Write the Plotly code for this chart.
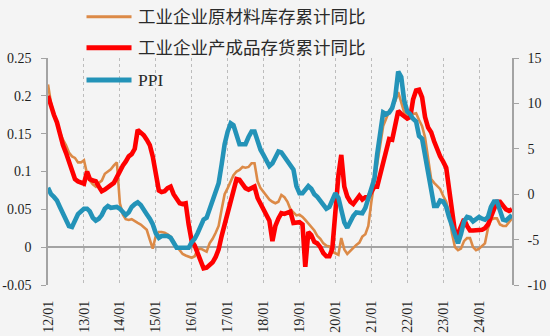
import pandas as pd
import plotly.graph_objects as go

# Monthly observations, Jan 2012 - Dec 2024 (one row per year)
raw_materials = [  # 工业企业原材料库存累计同比 (left axis)
    0.215, 0.190, 0.175, 0.165, 0.152, 0.142, 0.135, 0.125, 0.120, 0.118, 0.112, 0.112,
    0.115, 0.097, 0.088, 0.083, 0.080, 0.085, 0.088, 0.097, 0.100, 0.103, 0.108, 0.112,
    0.058, 0.043, 0.037, 0.036, 0.037, 0.034, 0.032, 0.030, 0.027, 0.023, 0.010, -0.002,
    0.015, 0.020, 0.020, 0.019, 0.017, 0.014, 0.008, 0.000, -0.004, -0.009, -0.011, -0.013,
    -0.014, -0.012, -0.003, -0.002, -0.004, -0.006, 0.005, 0.011, 0.019, 0.028, 0.050, 0.070,
    0.078, 0.086, 0.095, 0.100, 0.102, 0.106, 0.105, 0.106, 0.111, 0.111, 0.087, 0.078,
    0.073, 0.069, 0.063, 0.060, 0.058, 0.060, 0.069, 0.066, 0.060, 0.050, 0.046, 0.042,
    0.043, 0.040, 0.036, 0.031, 0.027, 0.022, 0.015, 0.011, 0.005, 0.002, 0.001, -0.006,
    -0.008, -0.010, 0.012, -0.003, -0.009, -0.005, 0.000, 0.003, 0.006, 0.014, 0.017, 0.028,
    0.060, 0.090, 0.110, 0.135, 0.160, 0.170, 0.180, 0.186, 0.193, 0.205, 0.190, 0.178,
    0.175, 0.175, 0.176, 0.177, 0.168, 0.160, 0.145, 0.120, 0.090, 0.085, 0.081, 0.077,
    0.068, 0.060, 0.045, 0.018, 0.000, -0.004, -0.002, 0.008, 0.012, 0.012, 0.000, -0.004,
    -0.002, 0.002, 0.005, 0.025, 0.036, 0.038, 0.038, 0.030, 0.028, 0.028, 0.033, 0.038,
]

finished_goods = [  # 工业企业产成品存货累计同比 (left axis)
    0.200, 0.185, 0.175, 0.165, 0.148, 0.135, 0.125, 0.113, 0.097, 0.090, 0.087, 0.085,
    0.084, 0.100, 0.090, 0.088, 0.087, 0.080, 0.074, 0.076, 0.080, 0.082, 0.085, 0.093,
    0.100, 0.108, 0.113, 0.120, 0.123, 0.130, 0.155, 0.152, 0.148, 0.142, 0.135, 0.120,
    0.100, 0.075, 0.073, 0.074, 0.078, 0.080, 0.070, 0.064, 0.058, 0.057, 0.058, 0.030,
    0.008, 0.002, -0.008, -0.018, -0.028, -0.027, -0.024, -0.020, -0.013, -0.003, 0.015, 0.030,
    0.042, 0.058, 0.075, 0.090, 0.089, 0.082, 0.078, 0.076, 0.078, 0.080, 0.065, 0.057,
    0.048, 0.040, 0.035, 0.008, 0.028, 0.038, 0.045, 0.044, 0.046, 0.047, 0.032, 0.033,
    0.033, 0.030, -0.026, 0.020, 0.016, 0.007, 0.005, 0.000, -0.008, -0.012, -0.012, -0.002,
    0.050, 0.095, 0.122, 0.080, 0.067, 0.060, 0.057, 0.064, 0.068, 0.063, 0.066, 0.066,
    0.072, 0.080, 0.080, 0.095, 0.110, 0.130, 0.143, 0.142, 0.162, 0.180, 0.176, 0.172,
    0.170, 0.172, 0.195, 0.207, 0.208, 0.198, 0.172, 0.158, 0.152, 0.140, 0.128, 0.120,
    0.113, 0.105, 0.078, 0.045, 0.020, 0.018, 0.028, 0.037, 0.028, 0.022, 0.022, 0.022,
    0.022, 0.023, 0.025, 0.030, 0.040, 0.052, 0.060, 0.060, 0.055, 0.050, 0.048, 0.050,
]

ppi = [  # PPI, % y/y (right axis)
    0.7, 0.0, -0.3, -0.7, -1.4, -2.1, -2.9, -3.5, -3.6, -2.8, -2.2, -1.9,
    -1.6, -1.6, -1.9, -2.6, -2.9, -2.7, -2.3, -1.6, -1.3, -1.5, -1.4, -1.4,
    -1.6, -2.0, -2.3, -2.0, -1.4, -1.1, -0.9, -1.2, -1.8, -2.2, -2.7, -3.3,
    -4.3, -4.8, -4.6, -4.6, -4.6, -4.8, -5.4, -5.9, -5.9, -5.9, -5.9, -5.9,
    -5.3, -4.9, -4.3, -3.4, -2.8, -2.6, -1.7, -0.8, 0.1, 1.2, 3.3, 5.5,
    6.9, 7.8, 7.6, 6.4, 5.5, 5.5, 5.5, 6.3, 6.9, 6.9, 5.8, 4.9,
    4.3, 3.7, 3.1, 3.4, 4.1, 4.7, 4.6, 4.1, 3.6, 3.3, 2.7, 0.9,
    0.1, 0.1, 0.4, 0.9, 0.6, 0.0, -0.3, -0.8, -1.2, -1.6, -1.4, -0.5,
    0.1, -0.4, -1.5, -3.1, -3.7, -3.0, -2.4, -2.0, -2.1, -2.1, -1.5, -0.4,
    0.3, 1.7, 4.4, 6.8, 9.0, 8.8, 9.0, 9.5, 10.7, 13.5, 12.9, 10.3,
    9.1, 8.8, 8.3, 8.0, 6.4, 6.1, 4.2, 2.3, 0.9, -1.3, -1.3, -0.7,
    -0.8, -1.4, -2.5, -3.6, -4.6, -5.4, -4.4, -3.0, -2.5, -2.6, -3.0, -2.7,
    -2.5, -2.7, -2.8, -2.5, -1.4, -0.8, -0.8, -1.8, -2.8, -2.9, -2.5, -2.3,
]

months = pd.date_range("2012-01-01", periods=len(ppi), freq="MS")

x_tick_labels = ["12/01", "13/01", "14/01", "15/01", "16/01", "17/01", "18/01",
                 "19/01", "20/01", "21/01", "22/01", "23/01", "24/01"]
x_tick_dates = pd.date_range("2012-01-01", periods=len(x_tick_labels), freq="12MS")

left_ticks = [-0.05, 0, 0.05, 0.1, 0.15, 0.2, 0.25]
left_tick_labels = ["-0.05", "0", "0.05", "0.1", "0.15", "0.2", "0.25"]
right_ticks = [-10, -5, 0, 5, 10, 15]
right_tick_labels = ["-10", "-5", "0", "5", "10", "15"]

series = [
    ("工业企业原材料库存累计同比", raw_materials, "y", "#dc8a47", 2.6),
    ("工业企业产成品存货累计同比", finished_goods, "y", "#ff0000", 4.6),
    ("PPI", ppi, "y2", "#2393b8", 4.6),
]

FONT = "Liberation Serif, Noto Sans CJK SC"
AXIS_GREY = "#a3a3a3"
BG = "#f4f4f4"

fig = go.Figure()
for name, values, axis, color, width in series:
    fig.add_trace(go.Scatter(
        x=months, y=values, name=name, yaxis=axis, mode="lines",
        line=dict(color=color, width=width), showlegend=False,
    ))

# Hand-drawn legend in the upper-left corner
legend_rows_y = [1.182, 1.045, 0.903]
for (name, _, _, color, width), ly in zip(series, legend_rows_y):
    fig.add_shape(type="line", xref="paper", yref="paper",
                  x0=0.083, x1=0.180, y0=ly, y1=ly,
                  line=dict(color=color, width=width + 0.4))
    fig.add_annotation(xref="paper", yref="paper", x=0.190, y=ly,
                       text=name, showarrow=False, xanchor="left", yanchor="middle",
                       font=dict(family=FONT, size=17.5, color="#2a2a2a"))

# Small year ticks hanging below the zero line
for d in x_tick_dates[1:]:
    fig.add_shape(type="line", xref="x", yref="y", x0=d, x1=d, y0=0, y1=-0.0055,
                  line=dict(color=AXIS_GREY, width=1.2), layer="below")

tick_font = dict(family=FONT, size=14, color="#1e1e1e")

fig.update_layout(
    width=550, height=336,
    margin=dict(l=48, r=38, t=58, b=51, autoexpand=False),
    paper_bgcolor=BG, plot_bgcolor=BG,
    xaxis=dict(
        type="date", range=[months[0], months[-1]], automargin=False,
        tickmode="array", tickvals=x_tick_dates, ticktext=x_tick_labels,
        tickangle=-90, tickfont=tick_font, ticks="", ticklabelstandoff=12,
        showgrid=True, gridcolor="#bcbcbc", griddash="dot", gridwidth=1,
        showline=False, zeroline=False,
    ),
    yaxis=dict(
        range=[-0.05, 0.25], tickmode="array", tickvals=left_ticks, automargin=False,
        ticktext=left_tick_labels, tickfont=tick_font,
        showline=True, linecolor=AXIS_GREY, linewidth=1.5,
        ticks="outside", ticklen=5, tickcolor=AXIS_GREY, tickwidth=1.2,
        ticklabelstandoff=7, showgrid=False,
        zeroline=True, zerolinecolor=AXIS_GREY, zerolinewidth=1.5,
    ),
    yaxis2=dict(
        overlaying="y", side="right", range=[-10, 15], tickmode="array", automargin=False,
        tickvals=right_ticks, ticktext=right_tick_labels, tickfont=tick_font,
        showline=True, linecolor=AXIS_GREY, linewidth=1.5,
        ticks="outside", ticklen=5, tickcolor=AXIS_GREY, tickwidth=1.2,
        ticklabelstandoff=6, showgrid=False, zeroline=False,
    ),
)

fig.write_html("out.html")
